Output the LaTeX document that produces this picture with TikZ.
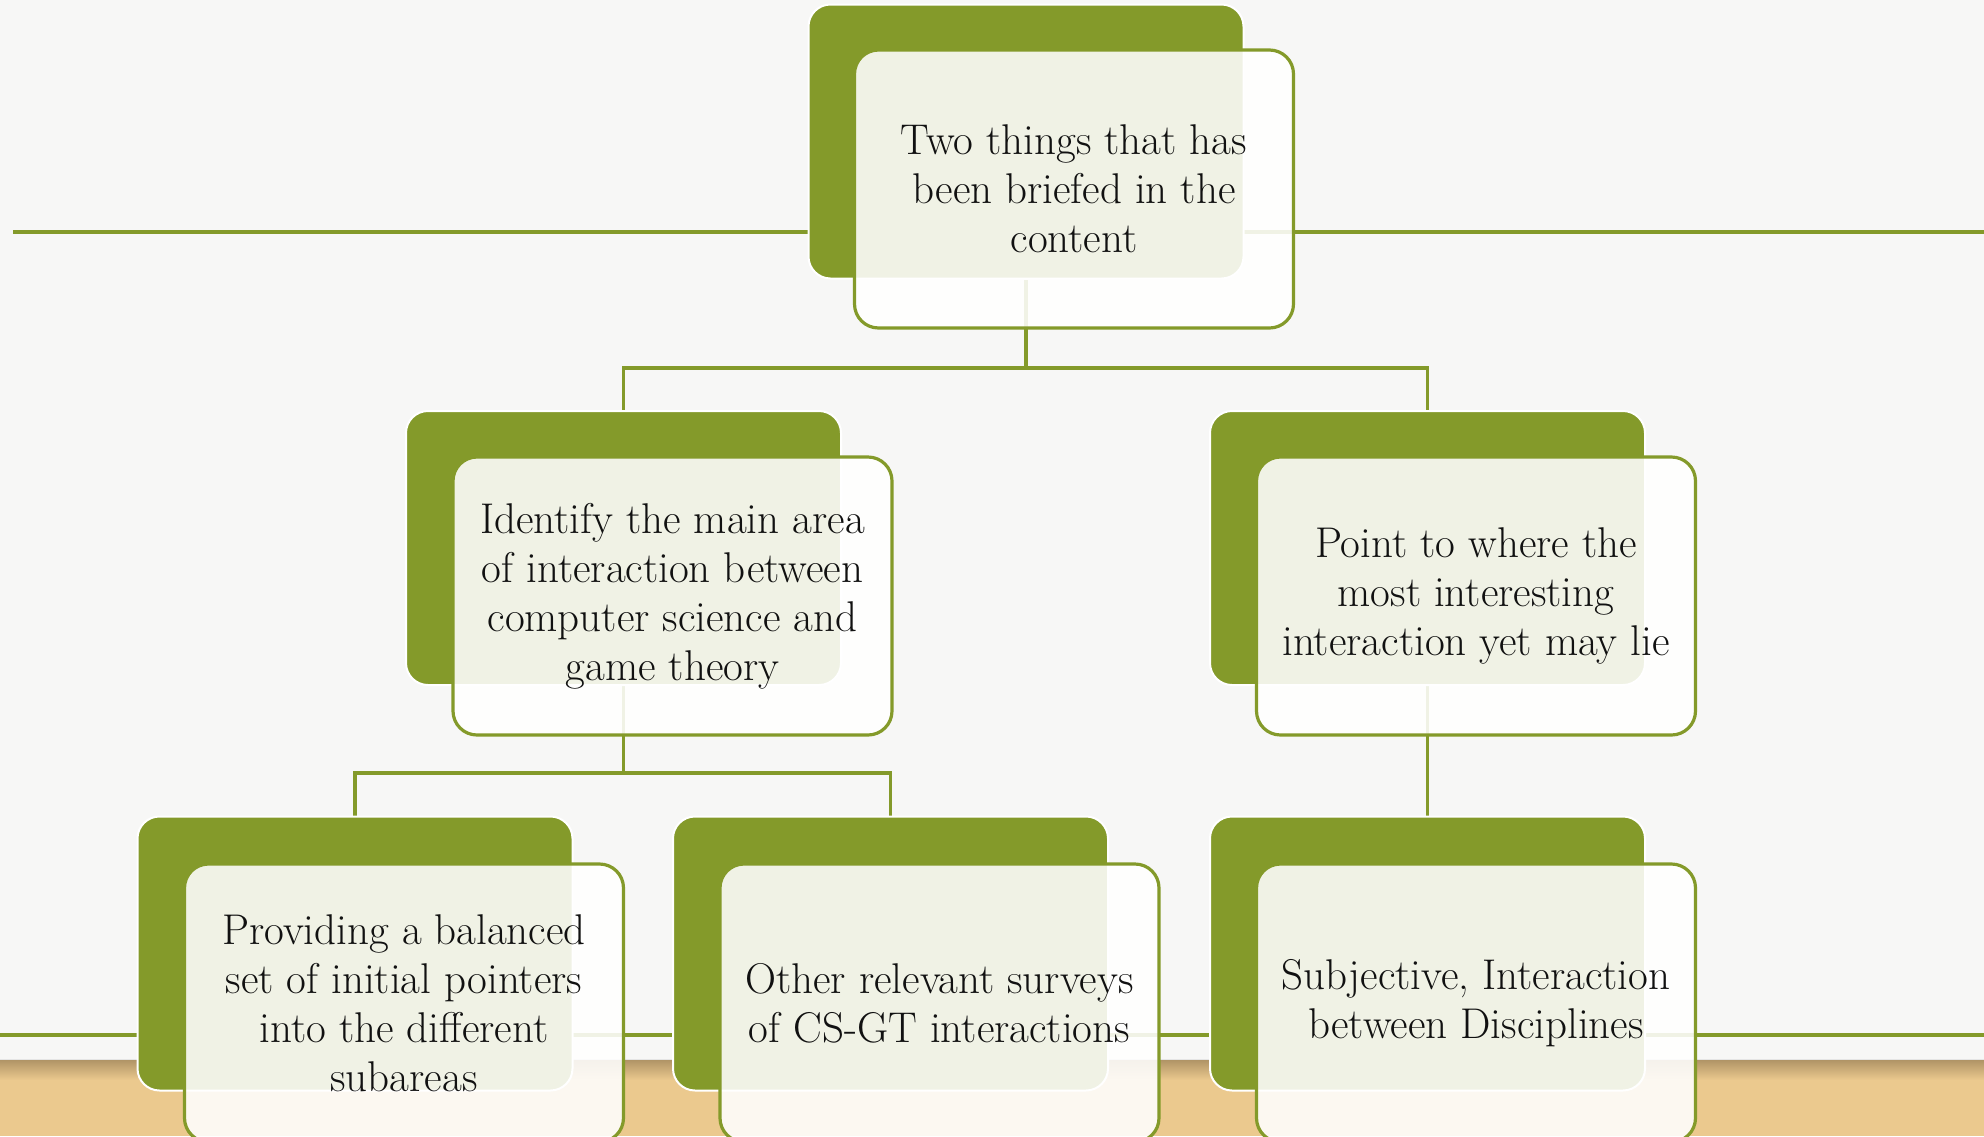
\documentclass[tikz,border=0pt]{standalone}
\usepackage{fontspec}
\usetikzlibrary{backgrounds,calc}
\definecolor{olive}{HTML}{849A2A}
\definecolor{pagebg}{HTML}{F7F7F6}
\definecolor{tan}{HTML}{EBC98E}
\definecolor{tandark}{HTML}{B09466}
\definecolor{ink}{HTML}{111111}
\tikzset{
  backbox/.style={draw=white, line width=2pt, fill=olive, rounded corners=22pt,
    minimum width=435pt, minimum height=274pt, inner sep=0pt},
  frontbox/.style={draw=olive, line width=3.2pt, fill=white, fill opacity=0.88,
    text opacity=1, rounded corners=24pt, minimum width=439pt, minimum height=278pt,
    inner sep=0pt, align=center, text=ink, font=\fontsize{43}{49}\selectfont},
  conn/.style={draw=olive, line width=3.2pt},
  rule/.style={draw=olive, line width=3.5pt}
}
\begin{document}
\begin{tikzpicture}[x=1pt,y=-1pt]
\useasboundingbox (0,0) rectangle (1984,1136);
\clip (0,0) rectangle (1984,1136);
% back boxes
\node[backbox] (b1) at (1026,141.5) {};
\node[backbox] (b2) at (623.5,548) {};
\node[backbox] (b3) at (1427.5,548) {};
\node[backbox] (b4) at (355,953.5) {};
\node[backbox] (b5) at (890.5,953.5) {};
\node[backbox] (b6) at (1427.5,953.5) {};
% front boxes
\node[frontbox] (f1) at (1074,189) {Two things that has\\been briefed in the\\content};
\node[frontbox] (f2) at (672.5,596) {Identify the main area\\of interaction between\\computer science and\\game theory};
\node[frontbox] (f3) at (1476,596) {Point to where the\\most interesting\\interaction yet may lie};
\node[frontbox] (f4) at (404,1003) {Providing a balanced\\set of initial pointers\\into the different\\subareas};
\node[frontbox] (f5) at (939.5,1003) {Other relevant surveys\\of CS-GT interactions};
\node[frontbox] (f6) at (1476,1003) {Subjective, Interaction\\between Disciplines};
\coordinate (j1) at (0,368);
\coordinate (j2) at (0,773);
\coordinate (r1a) at (13,232);
\coordinate (r1b) at (1984,232);
\coordinate (r2a) at (0,1035);
\coordinate (r2b) at (1984,1035);
\begin{pgfonlayer}{background}
  \fill[pagebg] (0,0) rectangle (1984,1136);
  \fill[tan] (0,1060) rectangle (1984,1136);
  \shade[top color=tandark, bottom color=tan] (0,1060) rectangle (1984,1080);
  \draw[white!80!gray, line width=1pt] (0,1059.5) -- (1984,1059.5);
  \draw[rule] (r1a) -- (r1b);
  \draw[rule] (r2a) -- (r2b);
  \draw[conn] (b1.south) -- (b1.south |- j1) -| (b2.north);
  \draw[conn] (b1.south |- j1) -| (b3.north);
  \draw[conn] (b2.south) -- (b2.south |- j2) -| (b4.north);
  \draw[conn] (b2.south |- j2) -| (b5.north);
  \draw[conn] (b3.south) -- (b6.north);
\end{pgfonlayer}
\end{tikzpicture}
\end{document}
